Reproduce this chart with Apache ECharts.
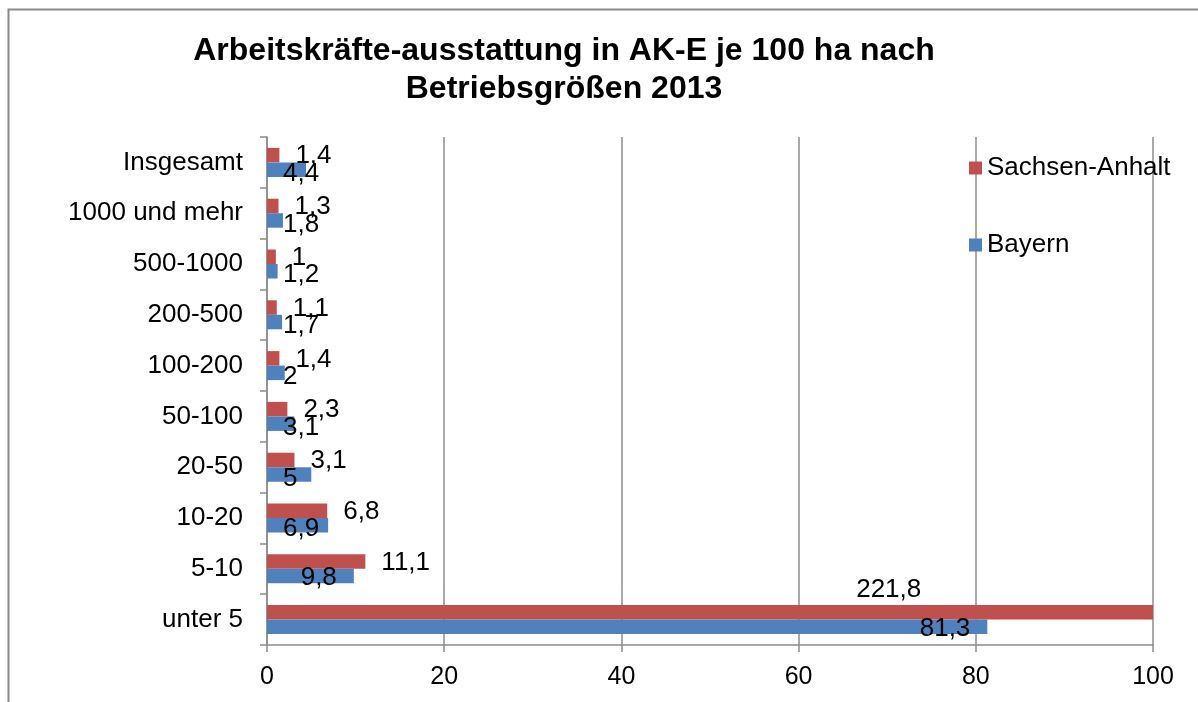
<!DOCTYPE html>
<html>
<head>
<meta charset="utf-8">
<script src="https://cdn.jsdelivr.net/npm/echarts@6/dist/echarts.min.js"></script>
<style>
html,body{margin:0;padding:0;background:#fff;}
#c{width:1198px;height:702px;}
</style>
</head>
<body>
<div id="c"></div>
<script>
const categories = ['unter 5','5-10','10-20','20-50','50-100','100-200','200-500','500-1000','1000 und mehr','Insgesamt'];
const bayern = [81.3, 9.8, 6.9, 5, 3.1, 2, 1.7, 1.2, 1.8, 4.4];
const sachsenAnhalt = [221.8, 11.1, 6.8, 3.1, 2.3, 1.4, 1.1, 1, 1.3, 1.4];
const xTicks = [0, 20, 40, 60, 80, 100];
const titleLines = ['Arbeitskräfte-ausstattung in AK-E je 100 ha nach', 'Betriebsgrößen 2013'];
const seriesNames = ['Sachsen-Anhalt', 'Bayern'];

const FONT = 'Liberation Sans, Arial, sans-serif';
const LFS = 26;
const RED = '#C0504D', BLUE = '#4F81BD', GRID = '#8c8c8c';
const fmt = v => String(v).replace('.', ',');
const xMin = xTicks[0], xMax = xTicks[xTicks.length - 1];

const chart = echarts.init(document.getElementById('c'), null, {renderer: 'canvas'});

const mctx = document.createElement('canvas').getContext('2d');
mctx.font = LFS + 'px ' + FONT;
const tw = s => mctx.measureText(s).width;

function baseOption(redData, blueData) {
  return {
    backgroundColor: '#fff',
    animation: false,
    title: {
      text: titleLines.join('\n'),
      left: 559, top: 27, textAlign: 'center',
      textStyle: {fontFamily: FONT, fontSize: 32, fontWeight: 'bold', color: '#000', lineHeight: 38}
    },
    graphic: [{
      type: 'rect', left: 6, top: 7, silent: true,
      shape: {width: 1200, height: 720},
      style: {fill: 'none', stroke: '#8a8a8a', lineWidth: 2}
    }],
    legend: {
      data: seriesNames, orient: 'vertical', left: 964, top: 150,
      itemWidth: 13, itemHeight: 13, itemGap: 51, icon: 'rect',
      textStyle: {fontFamily: FONT, fontSize: LFS, color: '#000'}
    },
    grid: {left: 267, right: 45, top: 137, bottom: 57, containLabel: false},
    xAxis: {
      type: 'value', min: xMin, max: xMax, interval: 20,
      axisLine: {show: true, lineStyle: {color: GRID, width: 1.5}},
      axisTick: {show: true, length: 7, lineStyle: {color: GRID, width: 1.5}},
      axisLabel: {fontFamily: FONT, fontSize: 25, color: '#000', margin: 20},
      splitLine: {show: true, lineStyle: {color: GRID, width: 1.5}}
    },
    yAxis: {
      type: 'category', data: categories,
      axisLine: {show: true, lineStyle: {color: GRID, width: 1.5}},
      axisTick: {show: true, length: 7, lineStyle: {color: GRID, width: 1.5}},
      axisLabel: {fontFamily: FONT, fontSize: LFS, color: '#000', margin: 24},
      splitLine: {show: false}
    },
    series: [
      {
        name: 'Sachsen-Anhalt', type: 'bar', data: redData, barWidth: 14.5, barGap: '0%',
        itemStyle: {color: RED}, clip: true,
        label: {show: true, position: 'right', distance: 16, offset: [0, 1],
          fontFamily: FONT, fontSize: LFS, color: '#000', formatter: p => fmt(p.value)}
      },
      {
        name: 'Bayern', type: 'bar', data: blueData, barWidth: 14.5, barGap: '0%',
        itemStyle: {color: BLUE}, clip: true,
        label: {show: true, position: 'insideRight', distance: 17, offset: [0, 2],
          fontFamily: FONT, fontSize: LFS, color: '#000', formatter: p => fmt(p.value)}
      }
    ]
  };
}

chart.setOption(baseOption(sachsenAnhalt, bayern));

// Excel-like label placement, derived from the axis scale
const x0 = chart.convertToPixel({xAxisIndex: 0}, xMin);
const blueData = bayern.map(v => {
  const end = chart.convertToPixel({xAxisIndex: 0}, v);
  const w = tw(fmt(v));
  if (end - 17 - w < x0 + 16) {
    return {value: v, label: {position: [16, '50%'], align: 'left', verticalAlign: 'middle', distance: 0, offset: [0, 4]}};
  }
  return v;
});
const redData = sachsenAnhalt.map(v => {
  if (v > xMax) {
    const xMaxPx = chart.convertToPixel({xAxisIndex: 0}, xMax);
    return {value: v, label: {position: 'insideTopLeft', distance: 0,
      offset: [(xMaxPx - x0) * 0.665, -28]}};
  }
  return v;
});
chart.setOption({series: [{data: redData}, {data: blueData}]});
</script>
</body>
</html>
